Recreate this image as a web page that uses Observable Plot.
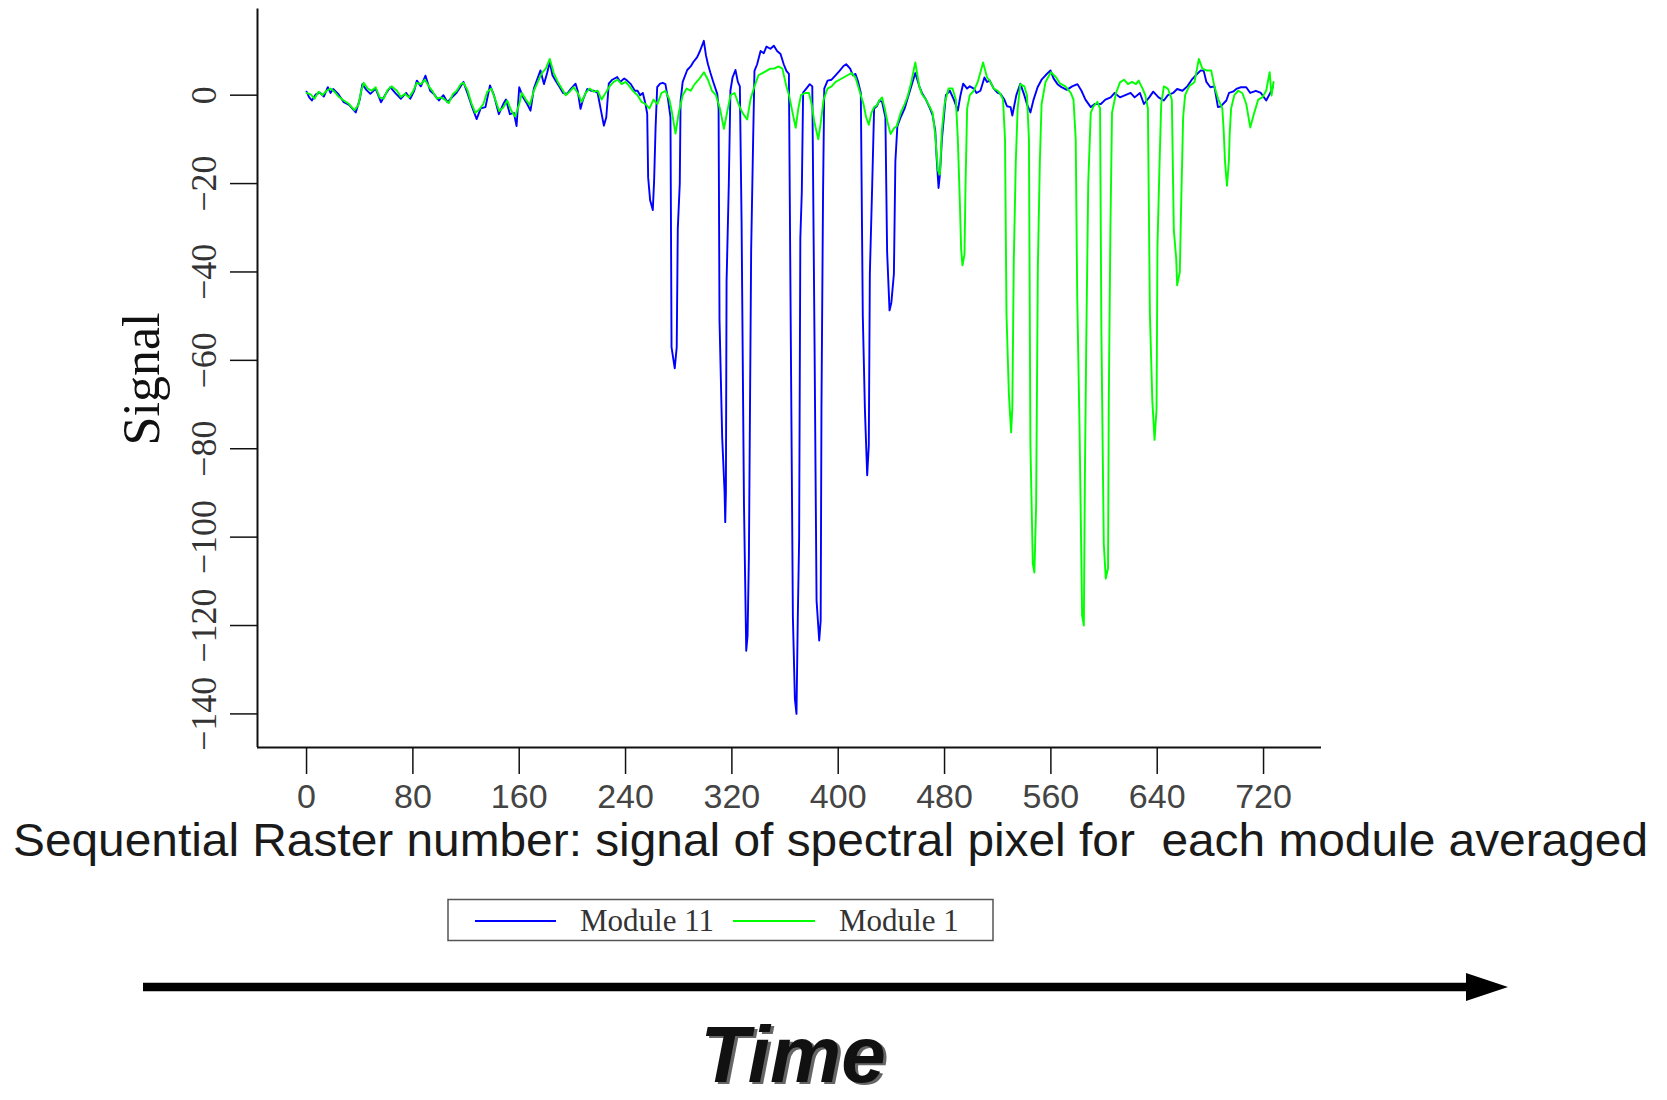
<!DOCTYPE html>
<html>
<head>
<meta charset="utf-8">
<script src="https://cdn.jsdelivr.net/npm/d3@7"></script>
<script src="https://cdn.jsdelivr.net/npm/@observablehq/plot@0.6"></script>
<style>
  html, body { margin: 0; padding: 0; background: #fff; width: 1667px; height: 1100px; overflow: hidden; }
  #chart { position: absolute; left: 0; top: 0; }
  #chart svg { display: block; }
  #overlay { position: absolute; left: 0; top: 0; pointer-events: none; }
</style>
</head>
<body>
<div id="chart"></div>
<svg id="overlay" width="1667" height="1100"></svg>
<script>
// ---------- data (raster number, signal) ----------
const seriesNames = ["Module 11", "Module 1"];
const seriesColors = ["#0000ff", "#00ff00"];
const xTicks = [0, 80, 160, 240, 320, 400, 480, 560, 640, 720];
const yTicks = [0, -20, -40, -60, -80, -100, -120, -140];
const xLabel = "Sequential Raster number: signal of spectral pixel for  each module averaged";
const yLabel = "Signal";
const timeLabel = "Time";

const module11 = [
  [0,0.8],[2,-0.5],[4,-1.2],[7,0.2],[10,0.6],[13,-0.3],[16,1.8],[18,0.5],[20,1.4],[24,0.2],[28,-1.6],[32,-2.2],[37,-3.9],[40,-1.0],[42,2.5],[45,1.2],[48,0.3],[52,1.5],[56,-1.6],[60,0.5],[63,1.8],[67,0.4],[71,-0.8],[75,0.5],[78,-0.8],[81,1.0],[83,3.3],[86,2.0],[89.5,4.4],[93,1.0],[96,0.2],[99.6,-1.2],[103,0],[106,-1.6],[110,-0.3],[113,0.6],[116,2.0],[118,3.0],[121,0.5],[124.6,-2.7],[128,-5.4],[131,-3.0],[134.6,-2.7],[138,2.2],[141,0.0],[144.7,-4.3],[148,-2.0],[150,-1.0],[153,-4.3],[156,-4.0],[158,-7.0],[160,1.8],[163,-0.5],[166,-2.0],[168.5,-3.5],[171,1.5],[174,4.0],[176,5.6],[178.6,2.5],[181,5.0],[183,7.5],[185,4.5],[187.3,3.3],[190,2.0],[193,0.5],[196,0.3],[199,1.5],[202.4,2.6],[204,1.0],[206.1,-3.1],[208,-1.0],[211.2,1.4],[214,1.0],[216.2,1.0],[219,0.5],[221.2,-3.0],[223.7,-6.9],[225.5,-5.0],[227.4,2.6],[230,3.5],[233.7,4.1],[236,3.0],[239,3.8],[241.2,3.3],[244,2.5],[247,1.0],[249,1.0],[251,0.0],[253,0.5],[255,-2.0],[256.3,-4.2],[257,-18.6],[258.5,-23.8],[260.5,-26.0],[261.5,-19.3],[262.6,-7.3],[263.8,1.8],[266,2.6],[268,2.8],[270,2.5],[272,-1.0],[273.8,-5.0],[274.6,-57],[277,-61.8],[278.5,-57],[279.3,-30.3],[280.8,-20],[281.4,-1.3],[283,3.0],[286.4,5.7],[289,6.5],[291,7.5],[293.9,8.6],[296,10.0],[298.9,12.3],[300.5,9.0],[302,7.0],[303.9,5.0],[306,3.0],[309,0.3],[310,-3.0],[310.7,-51],[312.7,-77.4],[314.5,-89.8],[315,-96.6],[315.5,-89.8],[316,-42.3],[317.7,-20],[318.9,1.0],[320.5,4.0],[322.7,5.7],[324.5,3.0],[326,2.0],[327.3,-28.7],[329.1,-92.6],[330.8,-125.7],[331.8,-122.3],[332.8,-104.5],[334.5,-35.2],[336,-10],[337,5.5],[339,7.0],[341.6,10.0],[344,9.5],[346,11.0],[349,10.5],[351.6,11.2],[354,10.0],[356.6,9.3],[359,7.0],[361,5.5],[362.9,4.8],[364.1,-45.3],[365.9,-118.1],[367.4,-136.6],[368.6,-140],[369.6,-118],[370.6,-100.4],[371.5,-32.3],[372.6,-22],[373.6,0.6],[376,1.5],[378.6,2.5],[380.5,2.0],[382.2,-56.3],[383.7,-114.3],[385.7,-123.4],[386.8,-118.9],[387.4,-70.6],[388.6,-22],[389.5,1.5],[392,3.3],[395,3.5],[398,4.5],[401,5.5],[404,6.6],[406,7.0],[409,6.0],[411,4.5],[413,4.8],[415,3.0],[417,0.5],[418.5,-50],[420.1,-71.3],[421.8,-86],[423,-79.3],[423.8,-40.4],[425.6,-20],[427,-3.0],[429,-2.5],[431,-1.2],[433,-1.5],[435.5,-5.0],[436.8,-35.5],[438.6,-48.7],[440,-46.9],[441.9,-40.4],[443,-15],[444.5,-7.0],[447,-5.0],[450,-3.0],[452,-1.0],[455,2.0],[458,5.0],[461,2.0],[463,0.5],[466,-1.0],[469,-3.0],[471,-4.5],[473,-8],[474,-14],[475.5,-21],[476.5,-18],[478,-10],[479.5,-5],[481,0],[484,1.0],[487,-1.0],[490,-3.5],[492,0],[494,2.6],[497,1.5],[499,2.0],[502,1.5],[504,0.5],[507,1.0],[510,4.0],[512,3.0],[514,3.3],[517,1.5],[520,0.5],[522,0.3],[525,-1.0],[527,-2.5],[529.7,-2.7],[531,-4.6],[534,0.0],[537,2.6],[540,0.0],[542,-2.0],[544.6,-3.9],[547,-1.0],[550,1.8],[553,3.5],[556,4.5],[559.7,5.6],[562,3.8],[565,2.5],[568,1.8],[572,1.2],[576,2.0],[580,2.5],[583,1.0],[586,-1.0],[590,-2.7],[593,-2.0],[597.6,-2.0],[601,-1.0],[605,-0.5],[608,0.5],[612,-0.5],[616,0.0],[620,0.5],[623,-0.5],[627,0.5],[630,-2.0],[634,-0.5],[637,0.8],[641,-0.5],[645,-1.2],[648,0.0],[652,0.5],[655,1.4],[659,1.0],[662.6,2.0],[666,3.5],[669,4.5],[672.8,5.6],[675,5.5],[677,3.0],[680,1.8],[683,2.0],[685.7,-2.7],[688,-2.5],[692,-1.2],[694,0.5],[697,0.8],[700,1.5],[703,1.8],[707,1.8],[710,0.5],[714.2,1.0],[718,0.5],[722,-1.2],[725,0.5],[727,1.8]
];

const module1 = [
  [0,0.5],[3,0.2],[6,-0.8],[9,0.8],[12,0.0],[15,1.0],[18,1.5],[21,0.8],[24,-0.3],[28,-1.2],[32,-2.0],[36,-3.4],[39,-2.2],[41,0.8],[43,2.8],[46,1.5],[49,1.0],[52,1.8],[55,-0.5],[58,-0.8],[61,1.2],[64,2.0],[68,1.0],[71,-0.4],[74,0.3],[77,-0.5],[80,0.8],[83,2.8],[86,2.5],[89,3.5],[92,2.0],[95,0.8],[98,-0.8],[101,-0.5],[104,-1.0],[107,-1.8],[110,0.2],[113,1.0],[116,2.5],[118,2.8],[121,1.2],[124,-1.8],[127,-4.0],[130,-3.2],[133,-2.0],[136,0.8],[139,1.5],[142,-1.0],[145,-3.6],[148,-2.8],[151,-1.2],[154,-3.5],[157,-4.8],[160,-2.0],[162,0.5],[165,-1.0],[168,-2.2],[171,1.0],[174,3.0],[177,5.0],[180,6.0],[183,8.2],[186,5.0],[189,3.0],[192,1.5],[195,0.0],[198,0.8],[201,1.8],[204,0.5],[207,-1.5],[210,0.5],[213,1.5],[216,0.8],[219,1.0],[222,-1.0],[225,0.5],[228,2.0],[231,3.0],[234,3.5],[237,2.5],[240,3.0],[243,2.0],[246,0.8],[249,0.0],[252,-1.5],[255,-2.0],[258,-3.0],[261,-1.0],[264,-2.0],[267,0.5],[270,1.0],[273,-1.0],[275,-4.0],[277.6,-8.7],[280,-4.0],[283,0.0],[286,1.5],[289,1.0],[292,2.5],[295,3.5],[299,5.2],[302,3.5],[305,1.0],[308,0.0],[311,-3.0],[314,-7.6],[317,-3.0],[319,0.0],[322,0.5],[325,-2.0],[328,-4.0],[331.5,-5.5],[334,-1.0],[337,2.0],[340,4.5],[343,5.0],[346,5.5],[349,6.0],[352,6.0],[355,6.5],[358,6.0],[361,2.0],[363,0.0],[365,-3.0],[368,-7.4],[370,-3.0],[372,0.0],[375,0.5],[378,0.5],[380,-2.0],[382,-6.0],[385,-10.0],[387,-6.0],[389,-1.0],[392,1.5],[395,2.0],[398,3.0],[401,3.5],[404,4.0],[407,4.5],[410,5.0],[413,4.0],[416,1.0],[419,-2.0],[421,-5.0],[423,-6.7],[425,-4.0],[427,-2.7],[429,-2.3],[431,-1.2],[433,-0.5],[435,-3.0],[437,-6.0],[439.4,-8.8],[442,-7.5],[444,-7.0],[447,-4.0],[450,-2.0],[452,-0.5],[455,3.0],[458,7.4],[461,2.0],[463,0.2],[466,-1.0],[469,-2.7],[471,-4.0],[473,-9],[475,-17],[476.5,-18],[478,-8],[480,-2],[483,1.5],[486,1.5],[488.5,-1.0],[490,-10],[491.5,-24],[492.5,-35],[493.5,-38.5],[495,-36],[495.8,-20],[497,-3],[499,0],[502,1],[505,3],[509,7.4],[512,4.0],[514,3.3],[517,1.5],[520,1.0],[522,0.3],[524,-1],[525.5,-10],[526.6,-49.5],[528.4,-67.6],[530.1,-76.3],[531,-70.6],[532.1,-37.4],[533.6,-15],[535,-3],[537,2.5],[540,2],[542,0],[543.5,-10],[544.6,-79],[546.4,-106],[547.6,-108],[548.9,-93],[550.2,-39],[551.7,-15],[553,-2],[556,3],[560,5.2],[564,4],[567,2.6],[571,2],[575,0.5],[577,-1],[578.7,-10],[579.8,-45],[581.6,-76],[583.5,-117.7],[584.8,-120],[585.6,-86],[586.6,-56.7],[588.1,-20],[590,-4],[592,-2.6],[595,-1.5],[597,-3],[598,-53.6],[599.8,-101.5],[601.3,-109.4],[603,-107],[603.6,-68],[604.8,-30],[606,-4],[609,0.5],[612,2.9],[615,3.5],[618,2.5],[621,3],[624,2.5],[626,3.3],[629,1.5],[631,0],[633,-3],[634.5,-49.5],[636.3,-69],[638,-78],[639.5,-71],[640.2,-34],[641.8,-15],[643,-2],[645,2],[648,1.5],[651,-1],[652.5,-30.6],[654.3,-37],[655,-43],[657,-40],[658,-25],[659.5,-5],[661,0],[664,2],[668,2.9],[671.3,8.2],[674,6],[677,5.6],[680.6,5.6],[683,2],[686,-1],[689,-3],[690,-8],[691,-15],[692.5,-20.5],[693.9,-15],[694.5,-9],[695.6,-3],[698,0],[701,1],[704,0.5],[707,-2],[710,-7.3],[713,-4],[716,-1],[719,-0.5],[722,1],[724.6,5.2],[726,-0.1],[727.5,3]
];

// ---------- chart ----------
const xDomain = [-36.9, 763.6];
const yDomain = [-147.6, 19.5];
const rows = [
  ...module11.map(([raster, signal]) => ({raster, signal, module: seriesNames[0]})),
  ...module1.map(([raster, signal]) => ({raster, signal, module: seriesNames[1]}))
];
const fmtY = d => d < 0 ? "\u2212" + Math.abs(d) : String(d);

const chart = Plot.plot({
  width: 1667,
  height: 812,
  marginLeft: 257,
  marginRight: 346,
  marginTop: 8.5,
  marginBottom: 65,
  style: {background: "transparent", overflow: "visible"},
  x: {domain: xDomain},
  y: {domain: yDomain},
  color: {domain: seriesNames, range: seriesColors},
  marks: [
    Plot.line(rows, {x: "raster", y: "signal", z: "module", stroke: "module", strokeWidth: 1.9}),
    Plot.ruleX([xDomain[0]], {stroke: "#111", strokeWidth: 2}),
    Plot.ruleY([yDomain[0]], {stroke: "#111", strokeWidth: 2}),
    Plot.axisX({ticks: xTicks, tickSize: 27, tickPadding: 9, fontSize: 34, fontFamily: "Liberation Sans",
                color: "#111", fill: "#444", strokeWidth: 1.5, label: null, tickFormat: d => String(d)}),
    Plot.axisY({ticks: yTicks, tickSize: 27, tickPadding: 15, tickRotate: -90, fontSize: 36, fontFamily: "Liberation Serif",
                color: "#111", fill: "#333", strokeWidth: 1.5, label: null, tickFormat: fmtY})
  ]
});
document.getElementById("chart").appendChild(chart);

// ---------- overlay: axis titles, legend, time arrow ----------
const ov = d3.select("#overlay");

ov.append("text")
  .attr("transform", "translate(159,379) rotate(-90)")
  .attr("text-anchor", "middle")
  .style("font-family", "Liberation Serif")
  .style("font-size", "52px")
  .attr("fill", "#111")
  .text(yLabel);

ov.append("text")
  .attr("x", 13).attr("y", 856)
  .attr("textLength", 1635).attr("lengthAdjust", "spacingAndGlyphs")
  .style("white-space", "pre")
  .style("font-family", "Liberation Sans")
  .style("font-size", "46px")
  .attr("fill", "#1a1a1a")
  .text(xLabel);

// legend
const lg = ov.append("g");
lg.append("rect").attr("x", 448).attr("y", 899.5).attr("width", 545).attr("height", 41)
  .attr("fill", "none").attr("stroke", "#555").attr("stroke-width", 1.5);
const legendItems = [
  {x1: 475, x2: 556, tx: 580},
  {x1: 733, x2: 815, tx: 839}
];
seriesNames.forEach((name, i) => {
  const it = legendItems[i];
  lg.append("line").attr("x1", it.x1).attr("x2", it.x2).attr("y1", 921).attr("y2", 921)
    .attr("stroke", seriesColors[i]).attr("stroke-width", 2);
  lg.append("text").attr("x", it.tx).attr("y", 931)
    .style("font-family", "Liberation Serif").style("font-size", "31px")
    .attr("fill", "#333").text(name);
});

// time arrow
ov.append("line").attr("x1", 143).attr("x2", 1472).attr("y1", 987).attr("y2", 987)
  .attr("stroke", "#000").attr("stroke-width", 8.5);
ov.append("polygon").attr("points", "1466,973 1508,987 1466,1001").attr("fill", "#000");

ov.append("text").attr("x", 796).attr("y", 1084).attr("text-anchor", "middle")
  .style("font-family", "Liberation Sans").style("font-size", "80px")
  .style("font-weight", "bold").style("font-style", "italic")
  .attr("fill", "#666").text(timeLabel);
ov.append("text").attr("x", 793).attr("y", 1082).attr("text-anchor", "middle")
  .style("font-family", "Liberation Sans").style("font-size", "80px")
  .style("font-weight", "bold").style("font-style", "italic")
  .attr("fill", "#111").text(timeLabel);
</script>
</body>
</html>
